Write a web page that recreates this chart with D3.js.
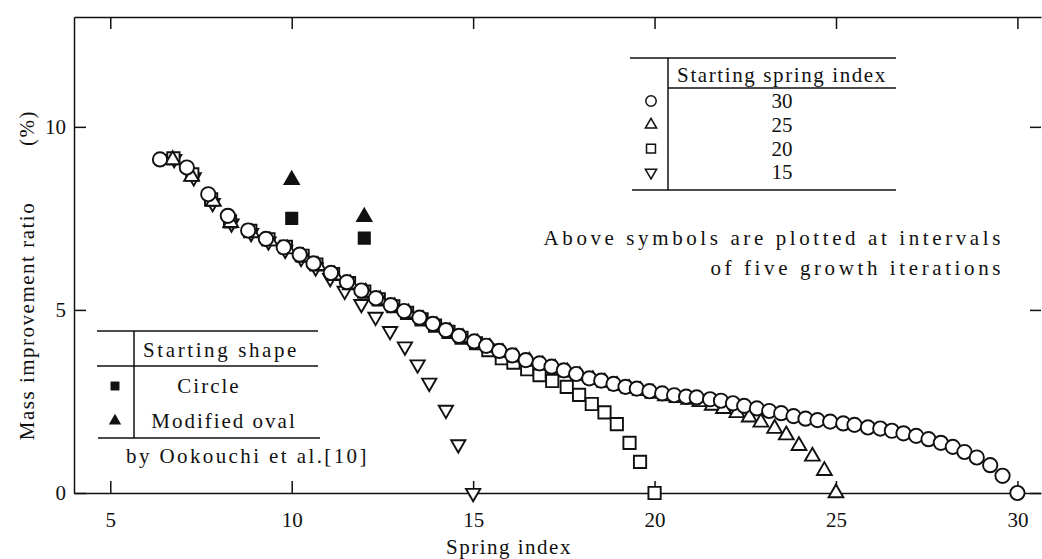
<!DOCTYPE html>
<html>
<head>
<meta charset="utf-8">
<script src="https://cdn.jsdelivr.net/npm/d3@7"></script>
<style>
  body { margin: 0; background: #fff; }
  text { font-family: "Liberation Serif", "DejaVu Serif", serif; fill: #111; }
</style>
</head>
<body>
<div class="chart"></div>
<script>
// starting spring index 30 (open circles)
const start30 = [[6.37,9.11],[7.11,8.89],[7.70,8.16],[8.24,7.57],[8.80,7.17],[9.29,6.94],[9.78,6.71],[10.22,6.51],[10.60,6.27],[11.08,6.01],[11.52,5.76],[11.92,5.53],[12.32,5.32],[12.73,5.13],[13.10,4.97],[13.52,4.79],[13.89,4.62],[14.25,4.45],[14.61,4.29],[15.03,4.14],[15.36,4.02],[15.72,3.88],[16.08,3.76],[16.45,3.63],[16.83,3.54],[17.16,3.45],[17.50,3.35],[17.84,3.25],[18.20,3.13],[18.53,3.07],[18.87,2.98],[19.20,2.90],[19.51,2.85],[19.86,2.78],[20.21,2.72],[20.54,2.67],[20.87,2.63],[21.16,2.61],[21.53,2.56],[21.83,2.52],[22.16,2.45],[22.47,2.38],[22.82,2.31],[23.16,2.24],[23.49,2.18],[23.83,2.10],[24.16,2.03],[24.49,1.99],[24.84,1.95],[25.20,1.90],[25.51,1.86],[25.88,1.79],[26.22,1.76],[26.54,1.70],[26.86,1.63],[27.21,1.56],[27.55,1.47],[27.89,1.37],[28.22,1.26],[28.54,1.12],[28.88,0.97],[29.25,0.76],[29.59,0.47],[30.0,0.0]];
// starting spring index 25 (open triangles)
const start25 = [[6.72,9.10],[7.24,8.64],[7.84,7.96],[8.32,7.38],[8.90,7.10],[9.40,6.88],[9.88,6.66],[10.32,6.45],[10.72,6.21],[11.18,5.95],[11.62,5.70],[12.04,5.48],[12.44,5.27],[12.84,5.08],[13.22,4.91],[13.62,4.73],[14.0,4.56],[14.36,4.40],[14.72,4.24],[15.12,4.09],[15.46,3.97],[15.82,3.83],[16.18,3.71],[16.55,3.59],[16.92,3.49],[17.26,3.40],[17.60,3.30],[17.94,3.20],[18.30,3.09],[18.63,3.02],[18.97,2.93],[19.30,2.85],[19.61,2.79],[19.96,2.72],[20.30,2.65],[20.62,2.60],[20.94,2.55],[21.25,2.49],[21.59,2.39],[21.90,2.30],[22.27,2.19],[22.61,2.07],[22.93,1.93],[23.31,1.76],[23.63,1.58],[23.98,1.29],[24.35,1.00],[24.68,0.61],[25.0,0.0]];
// starting spring index 20 (open squares)
const start20 = [[6.74,9.14],[7.26,8.70],[7.78,8.02],[8.30,7.42],[8.86,7.16],[9.36,6.93],[9.84,6.72],[10.30,6.48],[10.68,6.24],[11.14,5.98],[11.58,5.73],[12.00,5.50],[12.40,5.29],[12.80,5.10],[13.18,4.92],[13.58,4.74],[13.95,4.57],[14.32,4.40],[14.68,4.24],[15.08,4.09],[15.42,3.90],[15.79,3.68],[16.11,3.56],[16.49,3.38],[16.83,3.22],[17.18,3.06],[17.58,2.90],[17.92,2.68],[18.27,2.43],[18.62,2.20],[18.96,1.88],[19.31,1.37],[19.60,0.85],[20.0,0.0]];
// starting spring index 15 (open inverted triangles)
const start15 = [[6.76,9.12],[7.30,8.62],[7.82,7.92],[8.34,7.36],[8.88,7.10],[9.36,6.87],[9.82,6.64],[10.26,6.42],[10.66,6.16],[11.06,5.87],[11.46,5.52],[11.92,5.16],[12.31,4.81],[12.71,4.42],[13.12,4.00],[13.47,3.51],[13.79,3.01],[14.25,2.27],[14.59,1.33],[15.0,0.0]];
// Ookouchi et al. [10]
const ookouchiCircle = [[10,7.5],[12,6.96]];
const ookouchiOval = [[10,8.55],[12,7.54]];

const xTicks = [5, 10, 15, 20, 25, 30];
const yTicks = [0, 5, 10];
const springIndexRows = ["30", "25", "20", "15"];
const shapeRows = ["Circle", "Modified oval"];

const W = 1042, H = 559;
const pLeft = 74, pRight = 1041, pTop = 17, pBottom = 493;

const x = d3.scaleLinear().domain([4, 30.65]).range([pLeft, pRight]);
const y = d3.scaleLinear().domain([0, 13]).range([pBottom, pTop]);

const svg = d3.select(".chart").append("svg")
  .attr("width", W).attr("height", H);

// frame (right side is cut off in the original)
svg.append("g")
  .attr("transform", "translate(0," + pBottom + ")")
  .call(d3.axisBottom(x).tickValues(xTicks).tickSizeInner(-12).tickSizeOuter(0).tickPadding(19))
  .call(g => g.selectAll("text").style("font-size", "21px"));
svg.append("g")
  .attr("transform", "translate(0," + pTop + ")")
  .call(d3.axisTop(x).tickValues(xTicks).tickSizeInner(-12).tickSizeOuter(0).tickFormat(""));
svg.append("g")
  .attr("transform", "translate(" + pLeft + ",0)")
  .call(d3.axisLeft(y).tickValues(yTicks).tickSizeInner(-12).tickSizeOuter(0).tickPadding(8))
  .call(g => g.selectAll("text").style("font-size", "21px"));
svg.append("g")
  .attr("transform", "translate(" + pRight + ",0)")
  .call(d3.axisRight(y).tickValues(yTicks).tickSizeInner(-11).tickSizeOuter(0).tickFormat(""))
  .call(g => g.select(".domain").remove());
svg.selectAll(".domain, .tick line").attr("stroke", "#111").attr("stroke-width", 1.5);

// axis titles
svg.append("text").attr("x", 509).attr("y", 554)
  .attr("text-anchor", "middle").style("font-size", "21px").style("letter-spacing", "1.5px")
  .text("Spring index");
svg.append("text").attr("transform", "translate(34,321) rotate(-90)")
  .attr("text-anchor", "middle").style("font-size", "21px").style("letter-spacing", "1.5px")
  .text("Mass improvement ratio");
svg.append("text").attr("transform", "translate(34,128) rotate(-90)")
  .attr("text-anchor", "middle").style("font-size", "21px").style("letter-spacing", "1.5px")
  .text("(%)");

const sym = (type, size) => d3.symbol().type(type).size(size)();

function drawSeries(data, type, size, rot, fill) {
  svg.append("g").selectAll("path")
    .data(data).enter().append("path")
    .attr("d", sym(type, size))
    .attr("transform", d => "translate(" + x(d[0]) + "," + y(d[1]) + ") rotate(" + rot + ")")
    .attr("fill", fill)
    .attr("stroke", "#111")
    .attr("stroke-width", 1.9);
}

drawSeries(start15, d3.symbolTriangle, 88, 180, "#fff");
drawSeries(start20, d3.symbolSquare, 150, 0, "#fff");
drawSeries(start25, d3.symbolTriangle, 95, 0, "#fff");
drawSeries(start30, d3.symbolCircle, 160, 0, "#fff");
drawSeries(ookouchiCircle, d3.symbolSquare, 125, 0, "#111");
drawSeries(ookouchiOval, d3.symbolTriangle, 88, 0, "#111");

// upper legend table
const lg = svg.append("g");
const line = (g, x1, y1, x2, y2) => g.append("line")
  .attr("x1", x1).attr("y1", y1).attr("x2", x2).attr("y2", y2)
  .attr("stroke", "#111").attr("stroke-width", 1.5);
line(lg, 630, 58, 896, 58);
line(lg, 668, 88, 896, 88);
line(lg, 632, 190, 896, 190);
line(lg, 668, 58, 668, 190);
lg.append("text").attr("x", 782).attr("y", 82).attr("text-anchor", "middle")
  .style("font-size", "21px").style("letter-spacing", "1.6px").text("Starting spring index");
const legendSyms = [
  [d3.symbolCircle, 85, 0],
  [d3.symbolTriangle, 55, 0],
  [d3.symbolSquare, 80, 0],
  [d3.symbolTriangle, 55, 180]
];
springIndexRows.forEach((t, i) => {
  const cy = 101 + i * 23.8;
  lg.append("path").attr("d", sym(legendSyms[i][0], legendSyms[i][1]))
    .attr("transform", "translate(651," + cy + ") rotate(" + legendSyms[i][2] + ")")
    .attr("fill", "#fff").attr("stroke", "#111").attr("stroke-width", 1.5);
  lg.append("text").attr("x", 782).attr("y", cy + 7).attr("text-anchor", "middle")
    .style("font-size", "21px").text(t);
});

// note
svg.append("text").attr("x", 1004).attr("y", 245).attr("text-anchor", "end")
  .style("font-size", "21px").style("letter-spacing", "3.6px")
  .text("Above symbols are plotted at intervals");
svg.append("text").attr("x", 1004).attr("y", 275).attr("text-anchor", "end")
  .style("font-size", "21px").style("letter-spacing", "3.6px")
  .text("of five growth iterations");

// lower legend table
const lg2 = svg.append("g");
line(lg2, 97, 331, 318, 331);
line(lg2, 97, 366, 318, 366);
line(lg2, 98, 438, 320, 438);
line(lg2, 134, 331, 134, 438);
lg2.append("text").attr("x", 143).attr("y", 357)
  .style("font-size", "21px").style("letter-spacing", "2.6px").text("Starting shape");
const shapeSyms = [[d3.symbolSquare, 80], [d3.symbolTriangle, 66]];
const shapeTextX = [209, 224];
shapeRows.forEach((t, i) => {
  const cy = 386 + i * 35;
  lg2.append("path").attr("d", sym(shapeSyms[i][0], shapeSyms[i][1]))
    .attr("transform", "translate(115," + cy + ")")
    .attr("fill", "#111");
  lg2.append("text").attr("x", shapeTextX[i]).attr("y", cy + 7).attr("text-anchor", "middle")
    .style("font-size", "21px").style("letter-spacing", "2px").text(t);
});
lg2.append("text").attr("x", 126).attr("y", 463)
  .style("font-size", "21px").style("letter-spacing", "2.4px").text("by Ookouchi et al.[10]");
</script>
</body>
</html>
